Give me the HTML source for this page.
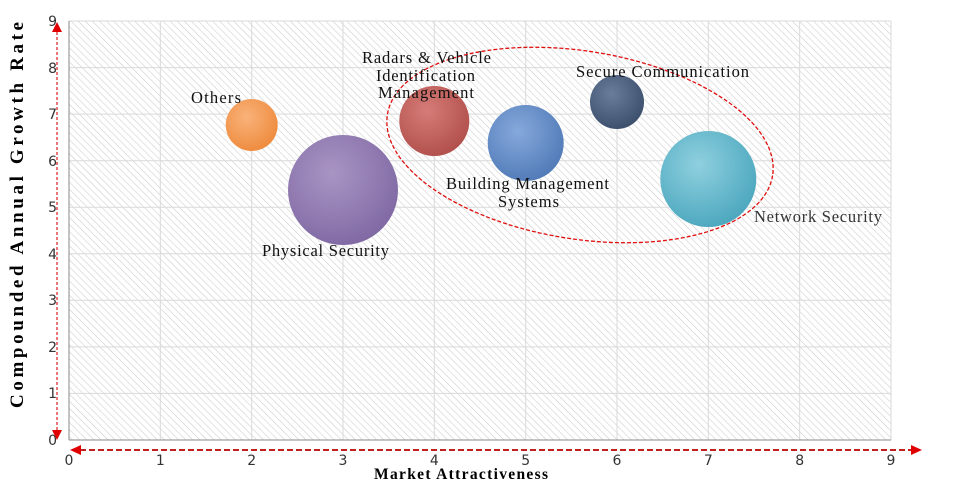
<!DOCTYPE html>
<html><head><style>body{margin:0;background:#fff}svg{display:block}</style></head><body>
<svg width="954" height="493" xmlns="http://www.w3.org/2000/svg">
<defs>
<pattern id="h" width="5" height="5" patternUnits="userSpaceOnUse" patternTransform="rotate(-45)">
<rect width="5" height="5" fill="#fff"/><line x1="0" y1="0" x2="0" y2="5" stroke="#d0d0d0" stroke-width="1.2"/></pattern>
<radialGradient id="g1" cx="40%" cy="35%" r="70%"><stop offset="0" stop-color="#f9b27a"/><stop offset="1" stop-color="#ee8a3c"/></radialGradient>
<radialGradient id="g2" cx="40%" cy="35%" r="70%"><stop offset="0" stop-color="#a995c4"/><stop offset="1" stop-color="#7f68a3"/></radialGradient>
<radialGradient id="g3" cx="40%" cy="35%" r="70%"><stop offset="0" stop-color="#d67c78"/><stop offset="1" stop-color="#b04e4a"/></radialGradient>
<radialGradient id="g4" cx="40%" cy="35%" r="70%"><stop offset="0" stop-color="#86a9dc"/><stop offset="1" stop-color="#4f79b6"/></radialGradient>
<radialGradient id="g5" cx="40%" cy="35%" r="70%"><stop offset="0" stop-color="#6a7e9c"/><stop offset="1" stop-color="#3a4d6a"/></radialGradient>
<radialGradient id="g6" cx="40%" cy="35%" r="70%"><stop offset="0" stop-color="#8fd0df"/><stop offset="1" stop-color="#4aa6bd"/></radialGradient>
</defs>
<rect x="69" y="21" width="822" height="419" fill="url(#h)"/>
<g stroke="#d9d9d9" stroke-width="1">
<line x1="160.3" y1="21" x2="160.3" y2="440"/><line x1="251.7" y1="21" x2="251.7" y2="440"/><line x1="343" y1="21" x2="343" y2="440"/><line x1="434.3" y1="21" x2="434.3" y2="440"/><line x1="525.7" y1="21" x2="525.7" y2="440"/><line x1="617" y1="21" x2="617" y2="440"/><line x1="708.3" y1="21" x2="708.3" y2="440"/><line x1="799.7" y1="21" x2="799.7" y2="440"/><line x1="891" y1="21" x2="891" y2="440"/>
<line x1="69" y1="21" x2="891" y2="21"/><line x1="69" y1="67.6" x2="891" y2="67.6"/><line x1="69" y1="114.1" x2="891" y2="114.1"/><line x1="69" y1="160.7" x2="891" y2="160.7"/><line x1="69" y1="207.2" x2="891" y2="207.2"/><line x1="69" y1="253.8" x2="891" y2="253.8"/><line x1="69" y1="300.3" x2="891" y2="300.3"/><line x1="69" y1="346.9" x2="891" y2="346.9"/><line x1="69" y1="393.4" x2="891" y2="393.4"/>
</g>
<line x1="69" y1="21" x2="69" y2="440" stroke="#888"/><line x1="69" y1="440" x2="891" y2="440" stroke="#888"/>
<g font-family="DejaVu Sans, sans-serif" font-size="14" fill="#333" text-anchor="middle">
<text x="69" y="465">0</text><text x="160.3" y="465">1</text><text x="251.7" y="465">2</text><text x="343" y="465">3</text><text x="434.3" y="465">4</text><text x="525.7" y="465">5</text><text x="617" y="465">6</text><text x="708.3" y="465">7</text><text x="799.7" y="465">8</text><text x="891" y="465">9</text>
</g>
<g font-family="DejaVu Sans, sans-serif" font-size="14" fill="#333" text-anchor="end">
<text x="57" y="445">0</text><text x="57" y="398">1</text><text x="57" y="352">2</text><text x="57" y="305">3</text><text x="57" y="259">4</text><text x="57" y="212">5</text><text x="57" y="166">6</text><text x="57" y="119">7</text><text x="57" y="73">8</text><text x="57" y="26">9</text>
</g>
<line x1="57" y1="32" x2="57" y2="430" stroke="#e03030" stroke-width="1.3" stroke-dasharray="3,2"/>
<polygon points="57,22 52,32 62,32" fill="#e00000"/><polygon points="57,440 52,430 62,430" fill="#e00000"/>
<line x1="80" y1="450" x2="912" y2="450" stroke="#c02020" stroke-width="2" stroke-dasharray="6,3"/>
<polygon points="70,450 81,445 81,455" fill="#e00000"/><polygon points="922,450 911,445 911,455" fill="#e00000"/>
<text x="374" y="479" textLength="174" lengthAdjust="spacing" font-family="Liberation Serif, serif" font-weight="bold" font-size="15.5">Market Attractiveness</text>
<text transform="translate(23,408) rotate(-90)" textLength="386" lengthAdjust="spacing" font-family="Liberation Serif, serif" font-weight="bold" font-size="19">Compounded  Annual  Growth Rate</text>
<circle cx="251.7" cy="125" r="26" fill="url(#g1)"/>
<circle cx="343" cy="190" r="55" fill="url(#g2)"/>
<circle cx="434.3" cy="121" r="35" fill="url(#g3)"/>
<circle cx="525.7" cy="143" r="38" fill="url(#g4)"/>
<circle cx="617" cy="102" r="27" fill="url(#g5)"/>
<circle cx="708.3" cy="179" r="48" fill="url(#g6)"/>
<ellipse cx="580" cy="145" rx="195" ry="94" transform="rotate(9 580 145)" fill="none" stroke="#e01010" stroke-width="1.3" stroke-dasharray="4,2"/>
<g font-family="Liberation Serif, serif" font-size="16.5" fill="#111" lengthAdjust="spacing">
<text x="191" y="103" textLength="50">Others</text>
<text x="262" y="256" textLength="127">Physical Security</text>
<text x="362" y="63" textLength="129">Radars &amp; Vehicle</text>
<text x="376" y="81" textLength="99">Identification</text>
<text x="378" y="98" textLength="96">Management</text>
<text x="446" y="189" textLength="163">Building Management</text>
<text x="498" y="207" textLength="61">Systems</text>
<text x="576" y="77" textLength="173">Secure Communication</text>
<text x="754" y="222" textLength="128" fill="#333">Network Security</text>
</g>
</svg>
</body></html>
